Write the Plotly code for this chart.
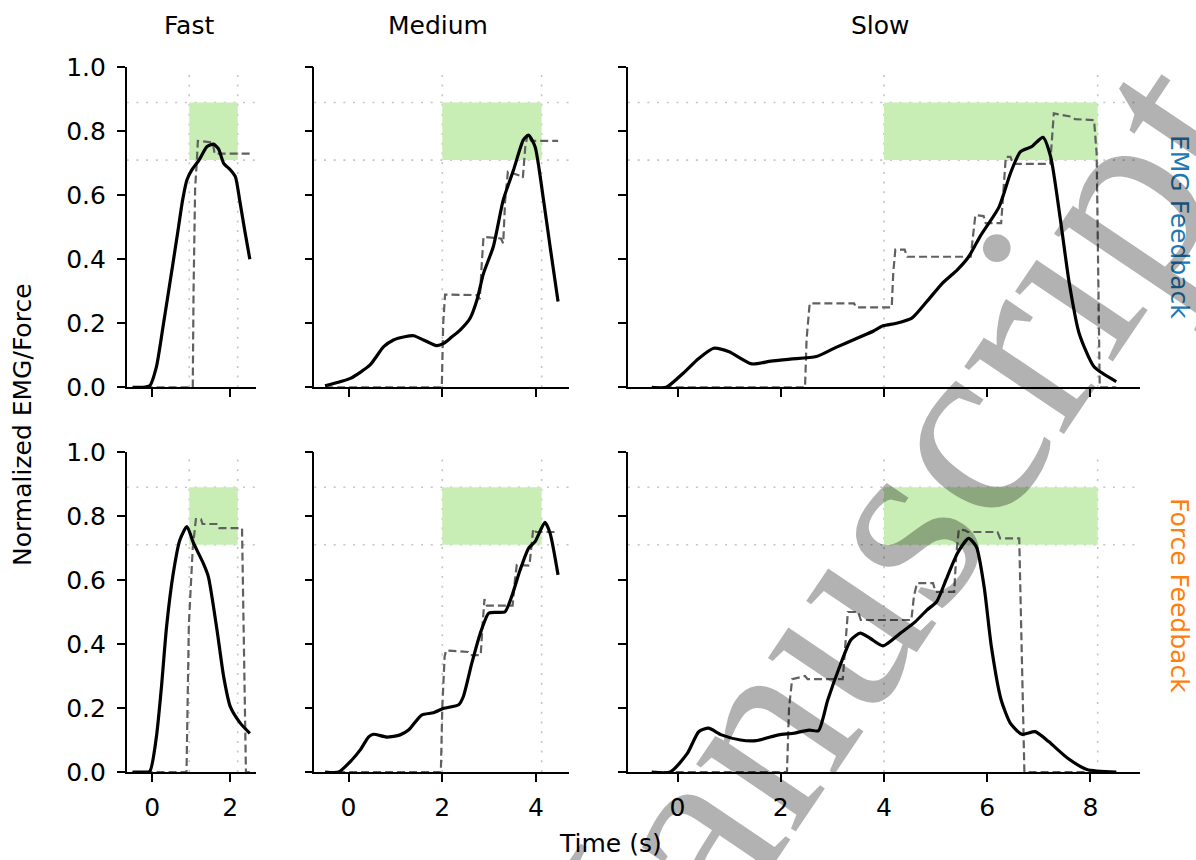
import plotly.graph_objects as go

# ---------------- data ----------------
speed_titles = ["Fast", "Medium", "Slow"]
row_labels = ["EMG Feedback", "Force Feedback"]
row_label_colors = ["#1f77b4", "#ff7f0e"]
x_ranges = [[-0.65, 2.65], [-0.73, 4.71], [-0.96, 8.96]]
x_tick_values = [[0, 2], [0, 2, 4], [0, 2, 4, 6, 8]]
y_tick_values = [0.0, 0.2, 0.4, 0.6, 0.8, 1.0]
y_tick_labels = ["0.0", "0.2", "0.4", "0.6", "0.8", "1.0"]
target_low = 0.71
target_high = 0.89
window_start = [0.95, 2.0, 4.0]
window_end = [2.19, 4.12, 8.14]

# EMG feedback row: measured signal (solid) and feedback (dashed)
emg_fast_t = [-0.5, -0.25, -0.06, 0.11, 0.28, 0.52, 0.65, 0.78, 0.89, 1.02, 1.2, 1.4, 1.57, 1.7, 1.83, 2.0, 2.13, 2.24, 2.37, 2.5]
emg_fast_y = [0, 0, 0.005, 0.064, 0.19, 0.377, 0.48, 0.585, 0.648, 0.68, 0.71, 0.752, 0.76, 0.745, 0.70, 0.68, 0.658, 0.585, 0.49, 0.40]
emg_fast_fb_t = [-0.5, 1.04, 1.06, 1.10, 1.15, 1.17, 1.55, 1.6, 2.5]
emg_fast_fb_y = [0, 0, 0.3, 0.62, 0.72, 0.77, 0.765, 0.73, 0.73]

emg_med_t = [-0.5, 0.04, 0.46, 0.75, 0.96, 1.2, 1.39, 1.6, 1.88, 2.03, 2.2, 2.38, 2.59, 2.74, 2.88, 3.09, 3.3, 3.52, 3.73, 3.84, 3.98, 4.16, 4.3, 4.47]
emg_med_y = [0.005, 0.028, 0.07, 0.127, 0.148, 0.158, 0.161, 0.148, 0.13, 0.137, 0.157, 0.179, 0.215, 0.273, 0.356, 0.44, 0.585, 0.679, 0.773, 0.788, 0.752, 0.585, 0.44, 0.268]
emg_med_fb_t = [-0.5, 1.99, 2.02, 2.06, 2.75, 2.8, 2.84, 2.88, 3.25, 3.3, 3.34, 3.4, 3.68, 3.72, 3.77, 3.82, 3.9, 4.47]
emg_med_fb_y = [0, 0, 0.2, 0.29, 0.288, 0.275, 0.38, 0.47, 0.465, 0.45, 0.58, 0.674, 0.66, 0.655, 0.75, 0.79, 0.77, 0.77]

emg_slow_t = [-0.5, -0.22, 0.11, 0.41, 0.70, 1.0, 1.44, 1.81, 2.18, 2.69, 3.06, 3.5, 3.8, 3.98, 4.24, 4.54, 4.83, 5.13, 5.42, 5.64, 5.86, 6.23, 6.45, 6.64, 6.86, 7.08, 7.23, 7.41, 7.59, 7.78, 8.07, 8.5]
emg_slow_y = [0, 0, 0.044, 0.09, 0.122, 0.111, 0.073, 0.082, 0.088, 0.096, 0.124, 0.155, 0.176, 0.192, 0.2, 0.216, 0.268, 0.325, 0.367, 0.408, 0.471, 0.564, 0.669, 0.736, 0.752, 0.781, 0.72, 0.533, 0.325, 0.169, 0.064, 0.018]
emg_slow_fb_t = [-0.5, 2.47, 2.5, 2.56, 3.42, 3.46, 4.15, 4.18, 4.22, 4.4, 4.45, 5.68, 5.73, 5.77, 5.93, 5.97, 6.27, 6.32, 6.36, 6.45, 6.5, 7.22, 7.26, 7.29, 7.65, 7.7, 8.07, 8.12, 8.18, 8.5]
emg_slow_fb_y = [0, 0, 0.15, 0.262, 0.262, 0.25, 0.25, 0.36, 0.43, 0.43, 0.408, 0.408, 0.48, 0.538, 0.535, 0.513, 0.513, 0.62, 0.72, 0.72, 0.698, 0.698, 0.8, 0.856, 0.845, 0.838, 0.835, 0.73, 0.0, 0.0]

# Force feedback row
force_fast_t = [-0.5, -0.25, -0.06, 0.11, 0.24, 0.37, 0.54, 0.71, 0.89, 1.06, 1.31, 1.44, 1.66, 1.83, 2.0, 2.26, 2.5]
force_fast_y = [0, 0, 0.002, 0.11, 0.267, 0.454, 0.62, 0.725, 0.767, 0.715, 0.652, 0.61, 0.444, 0.298, 0.204, 0.152, 0.121]
force_fast_fb_t = [-0.5, 0.88, 0.94, 1.04, 1.12, 1.25, 1.29, 1.68, 1.72, 2.3, 2.4, 2.5]
force_fast_fb_y = [0, 0, 0.46, 0.70, 0.79, 0.79, 0.775, 0.775, 0.762, 0.762, 0.0, 0.0]

force_med_t = [-0.5, -0.21, 0.07, 0.25, 0.43, 0.53, 0.82, 1.1, 1.28, 1.56, 1.81, 2.03, 2.35, 2.45, 2.63, 2.81, 2.99, 3.16, 3.34, 3.48, 3.66, 3.84, 3.98, 4.19, 4.3, 4.47]
force_med_y = [0, 0, 0.0375, 0.069, 0.11, 0.118, 0.109, 0.116, 0.131, 0.178, 0.185, 0.199, 0.21, 0.236, 0.34, 0.433, 0.496, 0.499, 0.501, 0.548, 0.631, 0.699, 0.72, 0.78, 0.746, 0.616]
force_med_fb_t = [-0.5, 1.97, 2.0, 2.05, 2.08, 2.55, 2.6, 2.82, 2.86, 2.9, 2.95, 3.5, 3.55, 3.59, 3.86, 3.9, 3.94, 4.0, 4.4]
force_med_fb_y = [0, 0, 0.2, 0.36, 0.38, 0.375, 0.365, 0.365, 0.46, 0.54, 0.52, 0.52, 0.6, 0.647, 0.645, 0.7, 0.76, 0.75, 0.75]

force_slow_t = [-0.5, -0.14, 0.19, 0.41, 0.60, 0.85, 1.22, 1.52, 1.96, 2.25, 2.55, 2.73, 2.91, 3.14, 3.36, 3.54, 3.73, 3.98, 4.32, 4.61, 4.83, 5.02, 5.2, 5.42, 5.64, 5.79, 5.94, 6.08, 6.27, 6.45, 6.67, 6.93, 7.19, 7.56, 7.93, 8.5]
force_slow_y = [0, 0, 0.058, 0.126, 0.137, 0.116, 0.1, 0.098, 0.116, 0.121, 0.131, 0.129, 0.225, 0.329, 0.413, 0.434, 0.418, 0.394, 0.434, 0.47, 0.506, 0.532, 0.6, 0.683, 0.73, 0.704, 0.579, 0.392, 0.225, 0.152, 0.118, 0.126, 0.095, 0.043, 0.008, 0]
force_slow_fb_t = [-0.5, 2.12, 2.16, 2.22, 2.47, 2.52, 3.2, 3.25, 3.3, 3.5, 3.55, 4.53, 4.58, 4.64, 4.95, 5.0, 5.36, 5.4, 5.45, 5.57, 5.62, 6.2, 6.25, 6.62, 6.68, 6.72, 8.5]
force_slow_fb_y = [0, 0, 0.2, 0.29, 0.3, 0.29, 0.29, 0.4, 0.5, 0.5, 0.475, 0.475, 0.55, 0.59, 0.59, 0.563, 0.563, 0.68, 0.758, 0.755, 0.75, 0.75, 0.73, 0.73, 0.3, 0.0, 0.0]

signals = [
    [(emg_fast_t, emg_fast_y), (emg_med_t, emg_med_y), (emg_slow_t, emg_slow_y)],
    [(force_fast_t, force_fast_y), (force_med_t, force_med_y), (force_slow_t, force_slow_y)],
]
feedbacks = [
    [(emg_fast_fb_t, emg_fast_fb_y), (emg_med_fb_t, emg_med_fb_y), (emg_slow_fb_t, emg_slow_fb_y)],
    [(force_fast_fb_t, force_fast_fb_y), (force_med_fb_t, force_med_fb_y), (force_slow_fb_t, force_slow_fb_y)],
]

# ---------------- layout ----------------
W, H = 1196, 860
FONT = "DejaVu Sans"
FS = 25
col_px = [(126.7, 255.7), (314.3, 569.3), (628.0, 1140.0)]
row_px = [(67.3, 387.3), (452.0, 772.0)]

fig = go.Figure()
layout = dict(
    width=W, height=H, margin=dict(l=0, r=0, t=0, b=0, pad=0), autosize=False,
    paper_bgcolor="white", plot_bgcolor="white", showlegend=False,
    font=dict(family=FONT, size=FS, color="black"),
)
shapes = []
annotations = []
dot_style = dict(color="#c4c4c4", width=1.6, dash="2px,7.7px")

for r in range(2):
    for c in range(3):
        idx = r * 3 + c + 1
        xa = "xaxis" if idx == 1 else f"xaxis{idx}"
        ya = "yaxis" if idx == 1 else f"yaxis{idx}"
        xr = "x" if idx == 1 else f"x{idx}"
        yr = "y" if idx == 1 else f"y{idx}"
        x0p, x1p = col_px[c]
        y0p, y1p = row_px[r]
        layout[xa] = dict(
            domain=[x0p / W, x1p / W], range=x_ranges[c], anchor=yr, automargin=False,
            showline=True, linecolor="black", linewidth=1.5, mirror=False,
            ticks="outside", ticklen=8, tickwidth=1.5, tickcolor="black",
            tickvals=x_tick_values[c], showticklabels=(r == 1),
            showgrid=False, zeroline=False, ticklabelstandoff=4,
            tickfont=dict(family=FONT, size=FS, color="black"),
        )
        layout[ya] = dict(
            domain=[1 - y1p / H, 1 - y0p / H], range=[0, 1], anchor=xr, automargin=False,
            showline=True, linecolor="black", linewidth=1.5,
            ticks="outside", ticklen=8, tickwidth=1.5, tickcolor="black",
            tickvals=y_tick_values, ticktext=y_tick_labels, showticklabels=(c == 0),
            showgrid=False, zeroline=False, ticklabelstandoff=6,
            tickfont=dict(family=FONT, size=FS, color="black"),
        )
        # target window
        shapes.append(dict(type="rect", xref=xr, yref=yr, x0=window_start[c], x1=window_end[c],
                           y0=target_low, y1=target_high, fillcolor="rgb(201,238,181)",
                           line=dict(width=0), layer="below"))
        for yv in (target_low, target_high):
            shapes.append(dict(type="line", xref=f"{xr} domain", yref=yr, x0=0, x1=1, y0=yv, y1=yv,
                               line=dot_style, layer="below"))
        for xv in (window_start[c], window_end[c]):
            shapes.append(dict(type="line", xref=xr, yref=f"{yr} domain", x0=xv, x1=xv, y0=0, y1=1,
                               line=dot_style, layer="below"))
        ft, fy = feedbacks[r][c]
        fig.add_trace(go.Scatter(x=ft, y=fy, mode="lines", xaxis=xr, yaxis=yr,
                                 line=dict(color="rgb(96,96,96)", width=2.2, dash="8px,4px"),
                                 hoverinfo="skip"))
        st, sy = signals[r][c]
        fig.add_trace(go.Scatter(x=st, y=sy, mode="lines", xaxis=xr, yaxis=yr,
                                 line=dict(color="black", width=3.2, shape="spline", smoothing=0.6),
                                 hoverinfo="skip"))

# column titles
title_x = [189, 437.5, 880]
for c in range(3):
    annotations.append(dict(text=speed_titles[c], x=title_x[c] / W, y=1 - 25 / H, xref="paper", yref="paper",
                            xanchor="center", yanchor="middle", showarrow=False,
                            font=dict(family=FONT, size=FS, color="black")))
# row labels on the right
row_label_y = [227, 595]
for r in range(2):
    annotations.append(dict(text=row_labels[r], x=1180 / W, y=1 - row_label_y[r] / H, xref="paper", yref="paper",
                            xanchor="center", yanchor="middle", showarrow=False, textangle=90,
                            font=dict(family=FONT, size=FS, color=row_label_colors[r])))
# axis titles
annotations.append(dict(text="Normalized EMG/Force", x=22 / W, y=1 - 425 / H, xref="paper", yref="paper",
                        xanchor="center", yanchor="middle", showarrow=False, textangle=-90,
                        font=dict(family=FONT, size=FS, color="black")))
annotations.append(dict(text="Time (s)", x=610 / W, y=1 - 843 / H, xref="paper", yref="paper",
                        xanchor="center", yanchor="middle", showarrow=False,
                        font=dict(family=FONT, size=FS, color="black")))
# watermark
annotations.append(dict(text="Manuscript", x=858 / W, y=1 - 582 / H, xref="paper", yref="paper",
                        xanchor="center", yanchor="middle", showarrow=False, textangle=-56,
                        font=dict(family="Liberation Serif", size=262, color="rgba(0,0,0,0.30)")))

layout["shapes"] = shapes
layout["annotations"] = annotations
fig.update_layout(**layout)
fig.write_html("out.html", config={"responsive": False, "displayModeBar": False},
               post_script="document.body.style.margin='0';document.body.style.overflow='hidden';")
